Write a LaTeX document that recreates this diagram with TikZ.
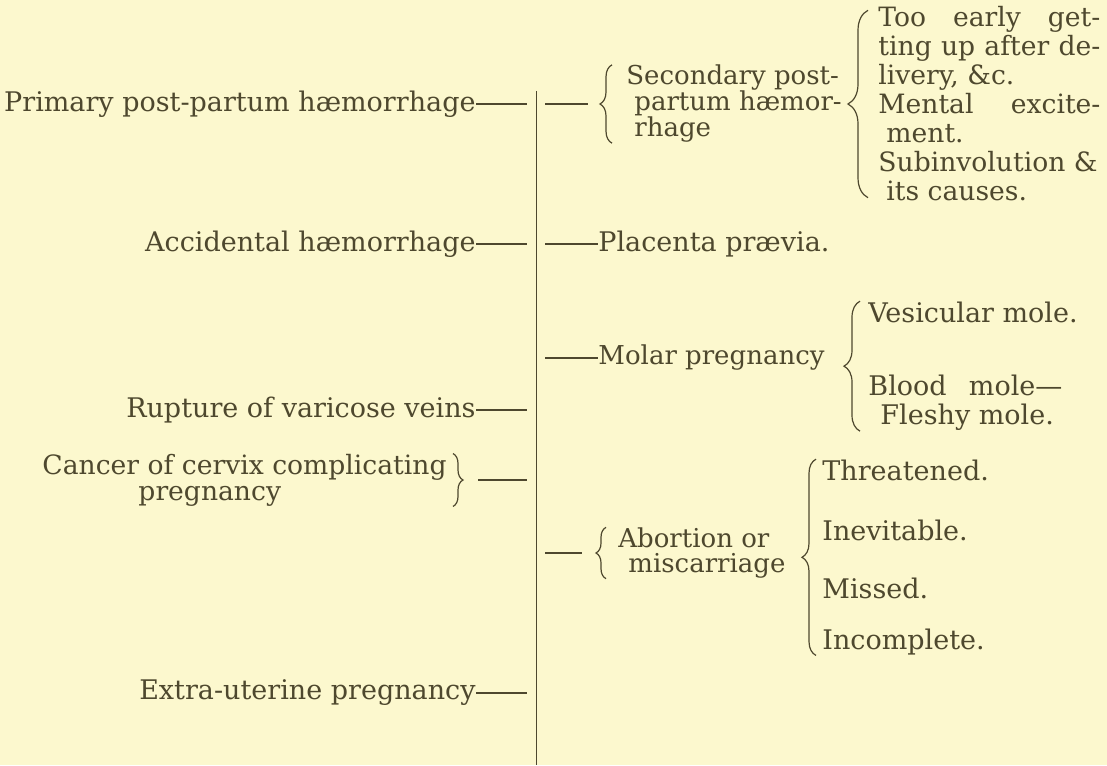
\documentclass[tikz,border=0pt]{standalone}
\usepackage{fontspec}
\setmainfont{DejaVu Serif}
\usetikzlibrary{calc, decorations.pathreplacing}

\definecolor{paper}{RGB}{252,248,206}
\definecolor{ink}{RGB}{78,72,46}

\newcommand{\spread}[2]{\makebox[#1][s]{#2}}

\begin{document}
\begin{tikzpicture}[
    x=0.5pt, y=-0.5pt,
    txt/.style={inner sep=0pt, text=ink, font=\fontsize{13.5}{14.5}\selectfont, align=left},
    cause/.style={txt, anchor=east},
    kind/.style={txt, anchor=west},
    tie/.style={draw=ink, line width=0.7pt},
    brc/.style={draw=ink, line width=0.6pt, decorate, decoration={brace, amplitude=#1}},
    brc/.default=6
]
    \fill[paper] (0,0) rectangle (1107,765);
    \useasboundingbox (0,0) rectangle (1107,765);

    % Central rule
    \coordinate (top) at (536,91);
    \coordinate (bot) at (536,765);
    \coordinate (dashL) at (527,0);
    \coordinate (dashR) at (545,0);
    \draw[ink, line width=0.5pt] (top) -- (bot);

    % Left column
    \node[cause] (primary) at (476,104) {Primary post-partum hæmorrhage};
    \node[cause] (accid) at (476,244) {Accidental hæmorrhage};
    \node[cause] (rupture) at (476,410) {Rupture of varicose veins};
    \node[cause, font=\fontsize{13.3}{13}\selectfont] (cancer) at (447,480) {Cancer of cervix complicating\\\hspace*{48pt}pregnancy};
    \node[cause] (extra) at (476,693) {Extra-uterine pregnancy};

    \draw[tie] (primary.east) -- (primary.east -| dashL);
    \draw[tie] (accid.east) -- (accid.east -| dashL);
    \draw[tie] (rupture.east) -- (rupture.east -| dashL);
    \draw[tie] (extra.east) -- (extra.east -| dashL);
    \draw[brc=5] ($(cancer.north east)+(6,0)$) -- ($(cancer.south east)+(6,0)$);
    \draw[tie] ($(cancer.east)+(31,0)$) -- (cancer.east -| dashL);

    % Right column
    \node[kind, font=\fontsize{13}{13}\selectfont] (second) at (626,104) {Secondary post-\\\hspace*{4pt}partum hæmor-\\\hspace*{4pt}rhage};
    \node[kind, font=\fontsize{13.3}{14.5}\selectfont] (causes) at (878,104) {\spread{111pt}{Too early get-}\\\spread{111pt}{ting up after de-}\\livery, \&c.\\\spread{111pt}{Mental excite-}\\\hspace*{4pt}ment.\\Subinvolution \&\\\hspace*{4pt}its causes.};
    \node[kind] (placenta) at (598,244) {Placenta prævia.};
    \node[kind, font=\fontsize{13}{14.5}\selectfont] (molar) at (598,358) {Molar pregnancy};
    \node[kind] (vesic) at (868,312) {Vesicular mole.};
    \node[kind] (blood) at (868,403) {\spread{97pt}{Blood mole—}\\\hspace*{6pt}Fleshy mole.};
    \node[kind, font=\fontsize{13}{12.5}\selectfont] (abort) at (618,553) {Abortion or\\\hspace*{5pt}miscarriage};
    \node[kind] (threat) at (822,470) {Threatened.};
    \node[kind] (inevit) at (822,530) {Inevitable.};
    \node[kind] (missed) at (822,588) {Missed.};
    \node[kind] (incompl) at (822,642) {Incomplete.};

    \draw[tie] (dashR |- second) -- ($(second.west)+(-38,0)$);
    \draw[brc] ($(second.south west)+(-14,0)$) -- ($(second.north west)+(-14,0)$);
    \draw[brc=10] ($(causes.south west)+(-10,-4)$) -- ($(causes.north west)+(-10,4)$);
    \draw[tie] (dashR |- placenta) -- (placenta.west);
    \draw[tie] (dashR |- molar) -- (molar.west);
    \draw[brc=8] ($(blood.south west)+(-8,0)$) -- ($(vesic.north west)+(-8,0)$);
    \draw[tie] (dashR |- abort) -- ($(abort.west)+(-36,0)$);
    \draw[brc=5] ($(abort.south west)+(-12,0)$) -- ($(abort.north west)+(-12,0)$);
    \draw[brc=7] ($(incompl.south west)+(-6,0)$) -- ($(threat.north west)+(-6,0)$);

\end{tikzpicture}
\end{document}
